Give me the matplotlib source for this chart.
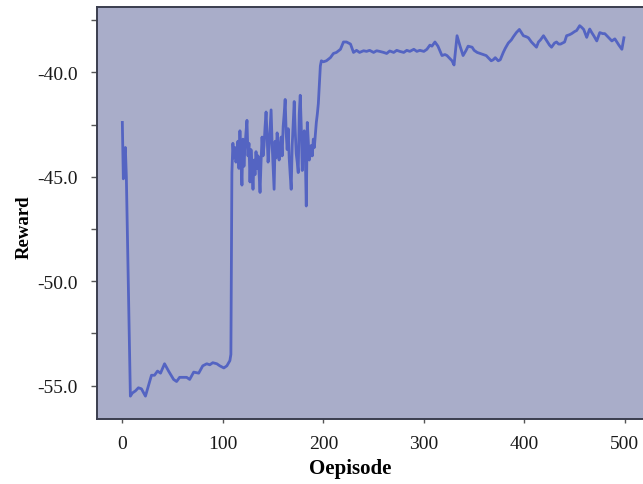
import matplotlib
matplotlib.use("Agg")
import matplotlib.pyplot as plt
from matplotlib.ticker import MultipleLocator, FormatStrFormatter

# reward per training episode (sparse where the curve is smooth, every episode in the noisy stretch)
episodes = [0, 1, 2, 3, 4, 8, 10, 13, 16, 19, 23, 26, 29, 32, 35, 38, 42, 46, 51, 54,
            57, 61, 64, 67, 71, 76, 80, 84, 87, 90, 94, 97, 101, 104, 107, 108]
rewards = [-42.4, -45.1, -44.0, -43.6, -45.0, -55.5, -55.35, -55.25, -55.1, -55.15,
           -55.5, -55.0, -54.5, -54.5, -54.3, -54.4, -53.95, -54.3, -54.7, -54.8,
           -54.6, -54.6, -54.6, -54.7, -54.35, -54.4, -54.05, -53.95, -54.0, -53.9,
           -53.95, -54.05, -54.15, -54.05, -53.8, -53.5]

noisy_start = 109
noisy_rewards = [
    -44.8, -43.4, -44.1, -43.6, -44.3, -44.0, -43.3, -44.6, -42.8, -44.2,
    -45.4, -43.2, -44.5, -43.6, -42.9, -42.3, -44.0, -43.4, -45.25, -43.7,
    -44.5, -45.6, -44.2, -44.9, -43.8, -44.6, -44.0, -44.8, -45.75, -44.3,
    -43.1, -44.0, -43.5, -42.6, -41.9, -43.0, -44.3, -43.6, -42.7, -41.8,
    -43.4, -44.5, -45.6, -43.3, -44.1, -42.9, -43.5, -44.2, -43.6, -43.1,
    -44.0, -42.6, -42.0, -41.3, -42.9, -43.7, -42.7, -44.1, -44.9, -45.6,
    -43.5, -42.4, -41.4, -42.8, -43.9, -44.3, -44.8, -42.0, -41.1, -42.6,
    -44.7, -43.6, -42.8, -43.9, -46.4, -42.4, -43.3, -44.2, -43.9, -43.5,
    -44.0, -43.2, -43.6, -43.0, -42.4, -42.0, -41.5, -40.6, -39.7, -39.45,
]

late_episodes = [200, 203, 207, 210, 213, 217, 220, 223, 227, 230, 233, 236, 240, 243,
                 246, 250, 253, 256, 260, 263, 266, 270, 273, 276, 280, 283, 286, 290,
                 293, 296, 300, 303, 306, 308, 311, 314, 318, 321, 323, 326, 328, 330,
                 333, 336, 339, 342, 344, 348, 350, 353, 356, 359, 362, 364, 367, 369,
                 371, 374, 376, 379, 381, 384, 387, 389, 392, 395, 397, 399, 402, 404,
                 407, 409, 412, 414, 416, 419, 421, 423, 425, 427, 430, 432, 434, 436,
                 438, 440, 442, 445, 447, 450, 452, 455, 457, 459, 461, 462, 464, 465,
                 467, 469, 472, 475, 478, 480, 482, 484, 487, 490, 492, 494, 497, 499]
late_rewards = [-39.5, -39.45, -39.3, -39.1, -39.05, -38.9, -38.55, -38.55, -38.65, -39.05,
                -38.95, -39.05, -38.97, -39.0, -38.95, -39.05, -38.97, -39.0, -39.05, -39.1,
                -38.98, -39.05, -38.95, -39.0, -39.05, -38.95, -39.0, -38.9, -39.0, -38.95,
                -39.0, -38.9, -38.7, -38.75, -38.55, -38.75, -39.2, -39.15, -39.2, -39.35,
                -39.45, -39.65, -38.25, -38.75, -39.2, -38.95, -38.75, -38.8, -38.95, -39.05,
                -39.1, -39.15, -39.2, -39.3, -39.45, -39.4, -39.3, -39.45, -39.4, -39.05,
                -38.85, -38.6, -38.45, -38.3, -38.1, -37.95, -38.1, -38.25, -38.3, -38.35,
                -38.55, -38.65, -38.8, -38.55, -38.45, -38.25, -38.4, -38.55, -38.7, -38.8,
                -38.6, -38.55, -38.65, -38.65, -38.6, -38.55, -38.25, -38.2, -38.15, -38.05,
                -38.0, -37.77, -37.85, -37.95, -38.2, -38.33, -38.05, -37.93, -38.1, -38.25,
                -38.5, -38.1, -38.15, -38.15, -38.25, -38.35, -38.5, -38.4, -38.55, -38.7,
                -38.9, -38.35]

x = episodes + [noisy_start + i for i in range(len(noisy_rewards))] + late_episodes
y = rewards + noisy_rewards + late_rewards

plt.rcParams["font.family"] = ["Liberation Serif", "DejaVu Serif"]

fig = plt.figure(figsize=(6.43, 4.85), dpi=100)
ax = fig.add_axes([97 / 643, 65.5 / 485, 1 - 97 / 643, 411.2 / 485])
ax.set_facecolor("#a9adc9")
ax.plot(x, y, color="#5464c2", lw=2.0, solid_joinstyle="round")

ax.set_xlim(-25.2, 518)
ax.set_ylim(-56.57, -36.89)
ax.xaxis.set_major_locator(MultipleLocator(100))
ax.yaxis.set_major_locator(MultipleLocator(5))
ax.yaxis.set_minor_locator(MultipleLocator(2.5))
ax.yaxis.set_major_formatter(FormatStrFormatter("%.1f"))

ax.tick_params(which="both", direction="out", length=4, width=1, color="#555555",
               labelsize=14, labelcolor="#1a1a1a")
ax.tick_params(axis="x", length=3, pad=9)
ax.tick_params(axis="y", pad=10)

for side in ["top", "left", "bottom"]:
    ax.spines[side].set_color("#3a3d4e")
    ax.spines[side].set_linewidth(1.4)
ax.spines["right"].set_visible(False)

ax.set_xlabel("Oepisode", fontsize=15, fontweight="bold")
ax.set_ylabel("Reward", fontsize=13.5, fontweight="bold")
ax.xaxis.set_label_coords(0.463, -0.097)
ax.yaxis.set_label_coords(-0.118, 0.468)

fig.savefig("out.png", dpi=100, facecolor="white")
